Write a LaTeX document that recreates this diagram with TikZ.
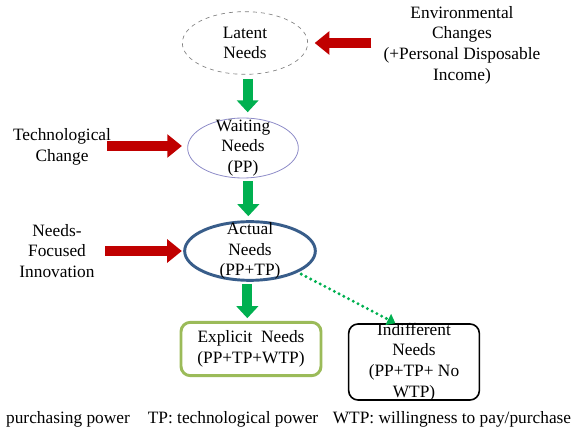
\documentclass[tikz,border=0pt]{standalone}
\usepackage{fontspec}
\setmainfont{Liberation Serif}
\usetikzlibrary{shapes.geometric,arrows.meta}

\definecolor{arrowred}{HTML}{C00000}
\definecolor{arrowgreen}{HTML}{00B050}
\definecolor{ringblue}{HTML}{385D8A}
\definecolor{ringlilac}{HTML}{8E8CC8}
\definecolor{boxgreen}{HTML}{9BBB59}

\tikzset{
  txt/.style={align=center,font=\fontsize{13}{15.5}\selectfont,inner sep=0pt},
  needs/.style={ellipse,inner sep=0pt},
  stage/.style={rectangle,rounded corners=7pt,inner sep=0pt},
  push/.style={arrowred,line width=7.5pt,-{Triangle[length=11pt,width=17pt]}},
  flow/.style={arrowgreen,line width=7.5pt,-{Triangle[length=9pt,width=16pt]}},
}

\begin{document}
\begin{tikzpicture}[x=0.75pt,y=-0.75pt]
\useasboundingbox (0,0) rectangle (572,431);

% the four stages of needs
\node[needs,draw=gray,dashed,line width=0.5pt,minimum width=94pt,minimum height=47pt,
  label={[txt]center:Latent\\Needs}] (latent) at (245,43) {};
\node[needs,draw=ringlilac,line width=0.6pt,minimum width=83pt,minimum height=45pt,
  label={[txt]center:Waiting\\Needs\\(PP)}] (waiting) at (243,148) {};
\node[needs,draw=ringblue,line width=2.2pt,minimum width=98pt,minimum height=44pt,
  label={[txt]center:Actual\\Needs\\(PP+TP)}] (actual) at (250,251) {};
\node[stage,draw=boxgreen,line width=2.2pt,minimum width=105pt,minimum height=40pt,
  label={[txt]center:Explicit~~Needs\\(PP+TP+WTP)}] (explicit) at (251,349) {};
\node[stage,draw=black,line width=1.2pt,minimum width=98pt,minimum height=57pt,
  label={[txt]center:Indifferent\\Needs\\(PP+TP+ No\\WTP)}] (indiff) at (414,362) {};

% drivers
\node[txt] (env) at (462,45) {Environmental\\Changes\\(+Personal Disposable\\Income)};
\node[txt] (tech) at (62,147) {Technological\\Change};
\node[txt] (nfi) at (57,251) {Needs-\\Focused\\Innovation};

\draw[push] ([xshift=-9pt]env.west |- latent.east) -- ([xshift=5pt]latent.east);
\draw[push] ([xshift=-3pt]tech.east |- 0,146) -- ([xshift=-4pt]waiting.west |- 0,146);
\draw[push] ([xshift=8pt]nfi.east) -- ([xshift=-1pt]actual.west);

% transitions
\draw[flow,shorten <=3pt,shorten >=4pt] ([xshift=2pt]latent.south) -- ([xshift=2pt]latent.south |- waiting.north);
\draw[flow,shorten <=2pt,shorten >=3pt] ([xshift=4pt]waiting.south) -- ([xshift=4pt]waiting.south |- actual.north);
\draw[flow,shorten <=2pt,shorten >=2pt] ([xshift=-2pt]actual.south) -- ([xshift=-2pt]actual.south |- explicit.north);
\draw[arrowgreen,line width=2.5pt,line cap=round,dash pattern=on 0pt off 4pt,
  -{Triangle[length=6pt,width=9pt]}] ([xshift=3pt,yshift=-1pt]actual.south east) -- ([xshift=-14pt]indiff.north);

% legend
\node[txt] (pp) at (68,419) {purchasing power};
\node[txt] (tp) at (233,419) {TP: technological power};
\node[txt] (wtp) at (452,419) {WTP: willingness to pay/purchase};
\end{tikzpicture}
\end{document}
